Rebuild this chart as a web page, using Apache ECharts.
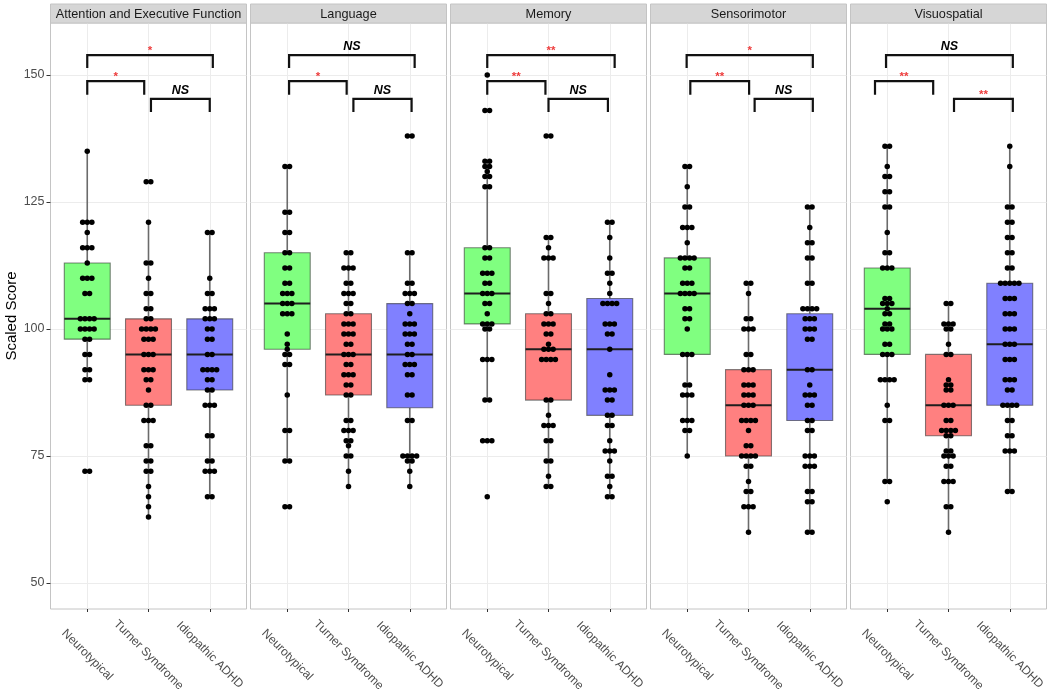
<!DOCTYPE html>
<html><head><meta charset="utf-8">
<script src="https://cdn.jsdelivr.net/npm/echarts@6/dist/echarts.min.js"></script>
<style>html,body{margin:0;padding:0;background:#fff}#c{width:1050px;height:695px}</style>
</head><body><div id="c"></div>
<script>
// ---------------- DATA ----------------
const panels = ['Attention and Executive Function', 'Language', 'Memory', 'Sensorimotor', 'Visuospatial'];
const groups = ['Neurotypical', 'Turner Syndrome', 'Idiopathic ADHD'];
const yTicks = [50, 75, 100, 125, 150];

// box stats per group: [lower whisker, Q1, median, Q3, upper whisker]
const boxAttention    = [[90, 98, 102, 113, 135], [63, 85, 95, 102, 121], [67, 88, 95, 102, 119]];
const boxLanguage     = [[74, 96, 105, 115, 132], [69, 87, 95, 103, 115], [69, 84.5, 95, 105, 115]];
const boxMemory       = [[86, 101, 107, 116, 133], [69, 86, 96, 103, 118], [67, 83, 96, 106, 121]];
const boxSensorimotor = [[75, 95, 107, 114, 132], [60, 75, 85, 92, 109], [60, 82, 92, 103, 124]];
const boxVisuospatial = [[70, 95, 104, 112, 136], [60, 79, 85, 95, 105], [68, 85, 97, 109, 136]];

// individual scores
const ptsAttentionNT = [135,121,121,121,119,116,116,116,113,110,110,110,107,107,102,102,102,102,100,100,100,100,98,98,95,95,92,92,90,90,72,72];
const ptsAttentionTS = [129,129,121,113,113,110,107,107,104,104,102,102,100,100,100,100,98,98,98,95,95,95,92,92,92,90,90,88,85,85,82,82,82,77,77,74,74,72,72,69,67,65,63];
const ptsAttentionAD = [119,119,110,107,107,104,104,104,102,102,102,100,100,98,98,95,95,92,92,92,92,90,90,88,88,85,85,85,79,79,74,74,72,72,72,67,67];

const ptsLanguageNT = [132,132,123,123,119,119,115,115,112,112,109,109,107,107,107,105,105,105,103,103,103,99,97,96,95,95,93,93,87,80,80,74,74,65,65];
const ptsLanguageTS = [115,115,112,112,112,109,109,107,107,107,105,105,103,103,101,101,101,99,99,99,97,97,95,95,95,93,93,91,91,91,89,89,87,87,82,82,80,80,80,78,78,77,75,75,72,69];
const ptsLanguageAD = [138,138,115,115,109,109,107,107,107,105,105,103,101,101,101,99,99,99,97,97,95,95,93,93,93,91,91,87,87,82,82,75,75,75,75,74,74,72,69];

const ptsMemoryNT = [150,143,143,133,133,132,132,131,130,130,128,128,116,116,114,114,111,111,111,109,109,107,107,107,105,105,103,101,101,101,100,100,94,94,94,86,86,78,78,78,67];
const ptsMemoryTS = [138,138,118,118,116,114,114,114,107,107,105,103,103,101,101,101,99,99,97,96,96,96,94,94,94,94,86,86,83,81,81,81,78,78,74,74,71,69,69];
const ptsMemoryAD = [121,121,118,114,111,111,109,107,105,105,105,105,101,101,101,99,99,96,91,88,88,88,86,86,83,83,81,81,78,76,76,76,74,71,71,69,67,67];

const ptsSensorimotorNT = [132,132,128,124,124,120,120,120,117,114,114,114,114,112,112,109,109,109,107,107,107,107,104,104,102,102,100,95,95,95,89,89,87,87,87,82,82,82,80,80,75];
const ptsSensorimotorTS = [109,109,107,102,102,100,100,100,95,95,92,92,92,89,89,89,87,87,87,85,85,85,82,82,82,82,80,77,77,75,75,75,75,73,73,70,68,68,65,65,65,60];
const ptsSensorimotorAD = [124,124,120,117,117,114,114,109,109,104,104,104,104,102,102,102,100,100,100,98,98,92,92,89,87,87,87,85,85,82,82,80,80,75,75,75,73,73,73,68,68,66,66,60,60];

const ptsVisuospatialNT = [136,136,132,130,130,127,127,124,124,119,115,115,112,112,112,106,106,105,105,105,104,103,103,101,101,100,100,100,97,97,95,95,95,90,90,90,90,85,82,82,70,70,66];
const ptsVisuospatialTS = [105,105,101,101,101,100,100,97,95,95,90,89,89,88,88,85,85,85,82,82,80,80,80,80,79,79,76,76,75,75,75,73,73,70,70,70,65,65,60];
const ptsVisuospatialAD = [136,132,124,124,121,121,118,118,115,115,112,112,109,109,109,109,109,106,106,106,103,103,103,100,100,100,97,97,97,94,94,94,90,90,90,88,88,85,85,85,85,82,82,79,79,76,76,76,68,68];

// significance: [Neurotypical vs ADHD, Neurotypical vs Turner, Turner vs ADHD]
const sigAttention    = ['*', '*', 'NS'];
const sigLanguage     = ['NS', '*', 'NS'];
const sigMemory       = ['**', '**', 'NS'];
const sigSensorimotor = ['*', '**', 'NS'];
const sigVisuospatial = ['NS', '**', '**'];

const boxes = [boxAttention, boxLanguage, boxMemory, boxSensorimotor, boxVisuospatial];
const points = [
  [ptsAttentionNT, ptsAttentionTS, ptsAttentionAD],
  [ptsLanguageNT, ptsLanguageTS, ptsLanguageAD],
  [ptsMemoryNT, ptsMemoryTS, ptsMemoryAD],
  [ptsSensorimotorNT, ptsSensorimotorTS, ptsSensorimotorAD],
  [ptsVisuospatialNT, ptsVisuospatialTS, ptsVisuospatialAD]
];
const sigs = [sigAttention, sigLanguage, sigMemory, sigSensorimotor, sigVisuospatial];

// ---------------- LAYOUT / STYLE ----------------
const boxFill = ['#80ff80', '#ff8080', '#8080ff'];
const panelLeft0 = 50.5, panelStep = 200, panelW = 196, panelTop = 23, panelH = 586;
const yMin = 44.88, yMax = 160.24;
// bracket spans (x in category units) per panel: [top, left pair, right pair]
const bracketSpan = [
  [[1, 3.05], [1, 1.93], [2.04, 3]],
  [[1.03, 3.08], [1.03, 1.97], [2.08, 3.03]],
  [[1, 3.08], [1, 1.95], [2.0, 2.97]],
  [[0.99, 3.05], [1.05, 2.01], [2.1, 3.05]],
  [[0.98, 3.05], [0.8, 1.75], [2.09, 3.05]]
];
const bracketLevel = [[153.9, 151.4], [148.8, 146.1], [145.3, 142.7]];

const chart = echarts.init(document.getElementById('c'), null, {renderer: 'canvas'});

const grids = [], xAxes = [], yAxes = [], series = [], graphics = [];
const FONT = '"Liberation Sans", Arial, sans-serif';

panels.forEach((name, p) => {
  const left = panelLeft0 + p * panelStep;
  grids.push({left: left, top: panelTop, width: panelW, height: panelH, show: true,
    borderColor: '#c4c4c4', borderWidth: 1, backgroundColor: 'transparent', outerBoundsMode: 'none'});
  xAxes.push({type: 'value', gridIndex: p, min: 0.4, max: 3.6,
    axisLine: {show: false},
    axisTick: {show: true, customValues: [1, 2, 3], length: 3, lineStyle: {color: '#333', width: 1}},
    axisLabel: {show: true, customValues: [1, 2, 3], formatter: v => groups[Math.round(v) - 1],
      rotate: -45, align: 'center', verticalAlign: 'middle', margin: 46,
      fontSize: 12, color: '#4d4d4d', fontFamily: FONT},
    splitLine: {show: true, lineStyle: {color: '#ececec', width: 1}}
  });
  yAxes.push({type: 'value', gridIndex: p, min: yMin, max: yMax,
    axisLine: {show: false},
    axisTick: {show: p === 0, customValues: yTicks, length: 4, lineStyle: {color: '#333', width: 1}},
    axisLabel: {show: p === 0, customValues: yTicks, fontSize: 12.5, color: '#4d4d4d', margin: 6, fontFamily: FONT},
    splitLine: {show: true, lineStyle: {color: '#ececec', width: 1}},
    name: p === 0 ? 'Scaled Score' : '', nameLocation: 'middle', nameGap: 27, nameRotate: 90,
    nameTextStyle: {fontSize: 15, color: '#000', fontFamily: FONT}
  });

  // strip
  graphics.push({type: 'rect', shape: {x: left, y: 4, width: panelW, height: 19},
    style: {fill: '#d6d6d6', stroke: '#c4c4c4', lineWidth: 1}, z: 10});
  graphics.push({type: 'text', x: left + panelW / 2, y: 14,
    style: {text: name, fill: '#1a1a1a', font: '12.7px ' + FONT, align: 'center', verticalAlign: 'middle'}, z: 11});

  // boxes
  series.push({type: 'custom', xAxisIndex: p, yAxisIndex: p, silent: true, z: 2,
    data: boxes[p].map((b, i) => [i + 1].concat(b)),
    encode: {x: 0, y: [1, 2, 3, 4, 5]},
    renderItem: (params, api) => {
      const x = api.value(0), lo = api.value(1), q1 = api.value(2), md = api.value(3), q3 = api.value(4), hi = api.value(5);
      const ci = params.dataIndex, half = 0.375;
      const pLo = api.coord([x, lo]), pQ1 = api.coord([x, q1]), pQ3 = api.coord([x, q3]), pHi = api.coord([x, hi]);
      const a = api.coord([x - half, q3]), b = api.coord([x + half, q1]);
      const m1 = api.coord([x - half, md]), m2 = api.coord([x + half, md]);
      const ws = {stroke: '#6b6b6b', lineWidth: 1.6};
      return {type: 'group', children: [
        {type: 'line', shape: {x1: pLo[0], y1: pLo[1], x2: pQ1[0], y2: pQ1[1]}, style: ws},
        {type: 'line', shape: {x1: pQ3[0], y1: pQ3[1], x2: pHi[0], y2: pHi[1]}, style: ws},
        {type: 'rect', shape: {x: a[0], y: a[1], width: b[0] - a[0], height: b[1] - a[1]},
          style: {fill: boxFill[ci], stroke: 'rgba(50,50,50,0.6)', lineWidth: 1.1}},
        {type: 'line', shape: {x1: m1[0], y1: m1[1], x2: m2[0], y2: m2[1]}, style: {stroke: '#1e1e1e', lineWidth: 2}}
      ]};
    }
  });

  // jittered points: duplicates spread side by side
  const pdata = [];
  points[p].forEach((vals, gi) => {
    const counts = {};
    vals.forEach(v => { counts[v] = (counts[v] || 0) + 1; });
    const seen = {};
    vals.forEach(v => {
      const k = seen[v] || 0; seen[v] = k + 1;
      const n = counts[v];
      const off = (k - (n - 1) / 2) * 0.075;
      pdata.push([gi + 1 + off, v]);
    });
  });
  series.push({type: 'scatter', xAxisIndex: p, yAxisIndex: p, silent: true, z: 3,
    symbol: 'circle', symbolSize: 5.5, itemStyle: {color: '#000', opacity: 1}, data: pdata});

  // brackets
  series.push({type: 'custom', xAxisIndex: p, yAxisIndex: p, silent: true, z: 4,
    data: [[2, 150], [2, 150], [2, 150]],
    renderItem: (params, api) => {
      const j = params.dataIndex;
      const span = bracketSpan[p][j], lev = bracketLevel[j];
      const tl = api.coord([span[0], lev[0]]), tr = api.coord([span[1], lev[0]]);
      const bl = api.coord([span[0], lev[1]]), br = api.coord([span[1], lev[1]]);
      const lab = sigs[p][j];
      const isNS = lab === 'NS';
      const ls = {stroke: '#111', lineWidth: 2.2, fill: null};
      return {type: 'group', children: [
        {type: 'polyline', shape: {points: [bl, tl, tr, br]}, style: ls},
        {type: 'text', x: (tl[0] + tr[0]) / 2, y: tl[1] - (isNS ? 8.5 : 4.5),
          style: {text: lab, fill: isNS ? '#000' : '#ee3b3b',
            font: isNS ? 'italic bold 12.5px ' + FONT : 'bold 11.5px ' + FONT,
            align: 'center', verticalAlign: 'middle'}}
      ]};
    }
  });
});

chart.setOption({
  animation: false,
  backgroundColor: '#fff',
  grid: grids, xAxis: xAxes, yAxis: yAxes, series: series, graphic: graphics
});
</script></body></html>
